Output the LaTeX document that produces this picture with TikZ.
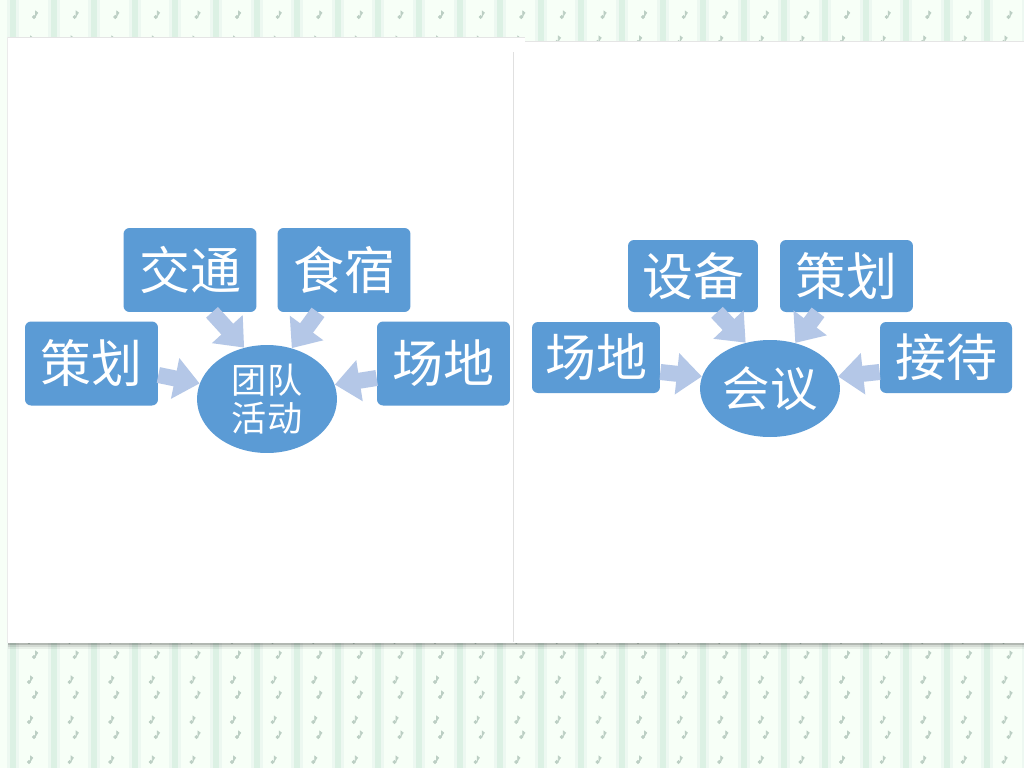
\documentclass[tikz,border=0pt]{standalone}
\usepackage{fontspec}
\setmainfont{Noto Sans CJK SC}
\usetikzlibrary{arrows.meta,shapes.geometric}

\definecolor{boxblue}{HTML}{5B9BD5}
\definecolor{flowblue}{HTML}{B4C7E7}
\definecolor{stripegreen}{HTML}{DCF1E4}
\definecolor{stripelight}{HTML}{EDF8F1}
\definecolor{notegray}{HTML}{BCCFC4}

\tikzset{
  item/.style={fill=boxblue, rounded corners=0.12cm, text=white,
    font=\fontsize{29}{32}\selectfont, inner sep=0pt,
    minimum width=2.66cm, minimum height=1.68cm},
  hub/.style={ellipse, fill=boxblue, text=white, inner sep=0pt,
    minimum width=2.8cm, minimum height=2.16cm, align=center},
  flow/.style={draw=flowblue, line width=0.32cm,
    -{Triangle[length=0.5cm,width=0.8cm]}},
  note/.style={fill=notegray, draw=notegray, line width=0.4pt},
}

\begin{document}
\begin{tikzpicture}[x=0.02cm, y=-0.02cm]
  \useasboundingbox (0,0) rectangle (1024,768);

  % striped paper behind the slides
  \fill[white!97!green] (0,0) rectangle (1024,768);
  \foreach \i in {0,...,25} {
    \pgfmathsetmacro\sx{10+40.6*\i}
    \fill[stripelight] (\sx-3,0) rectangle ++(12,768);
    \fill[stripegreen] (\sx,0) rectangle ++(6,768);
    \foreach \j in {0,...,19} {
      \fill[note] (\sx+24,17+40*\j) circle (1.6);
      \draw[note] (\sx+25.5,17+40*\j) -- ++(0,-6) -- ++(2.5,2);
      \fill[note] (\sx+19,42+40*\j) circle (1.6);
      \draw[note] (\sx+20.5,42+40*\j) -- ++(0,-6) -- ++(2.5,2);
    }
  }

  % the two slides
  \fill[black, opacity=0.28] (8,643) rectangle (1024,645);
  \fill[black, opacity=0.14] (8,645) rectangle (1024,647);
  \fill[black, opacity=0.06] (8,647) rectangle (1024,649);
  \fill[white] (8,37) rectangle (525,643);
  \fill[white] (513,41) rectangle (1024,643);
  \draw[black!10, line width=0.3pt] (8,37) -- (525,37);
  \draw[black!10, line width=0.3pt] (525,41) -- (1024,41);
  \draw[black!8, line width=0.3pt] (7.5,37) -- (7.5,643);
  \draw[black!12, line width=0.4pt] (513,52) -- (513,642);

  % left slide
  \node[hub, font=\fontsize{20}{21.6}\selectfont] (hub) at (267,399) {团队\\活动};
  \node[item] (jt) at (190,270) {交通};
  \node[item] (ss) at (344,270) {食宿};
  \node[item] (ch) at (91.5,363.5) {策划};
  \node[item] (cd) at (443.5,363.5) {场地};

  \draw[flow] ([xshift=0.44cm]jt.south) -- (hub.114);
  \draw[flow] ([xshift=-0.52cm]ss.south) -- (hub.64);
  \draw[flow] ([yshift=-0.23cm]ch.east) -- (hub.167);
  \draw[flow] ([yshift=-0.29cm]cd.west) -- (hub.12);

  % right slide
  \node[hub, minimum height=1.94cm, font=\fontsize{27}{30}\selectfont] (hub2) at (770,388.5) {会议};
  \node[item, minimum width=2.6cm, minimum height=1.44cm] (sb) at (693,276) {设备};
  \node[item, minimum width=2.66cm, minimum height=1.44cm] (ch2) at (846.5,276) {策划};
  \node[item, minimum width=2.56cm, minimum height=1.42cm] (cd2) at (596,357.5) {场地};
  \node[item, minimum width=2.64cm, minimum height=1.42cm] (jd) at (946,357.5) {接待};

  \draw[flow] ([xshift=0.48cm]sb.south) -- (hub2.118);
  \draw[flow] ([xshift=-0.57cm]ch2.south) -- (hub2.61);
  \draw[flow] ([yshift=-0.29cm]cd2.east) -- (hub2.170);
  \draw[flow] ([yshift=-0.29cm]jd.west) -- (hub2.10);
\end{tikzpicture}
\end{document}
